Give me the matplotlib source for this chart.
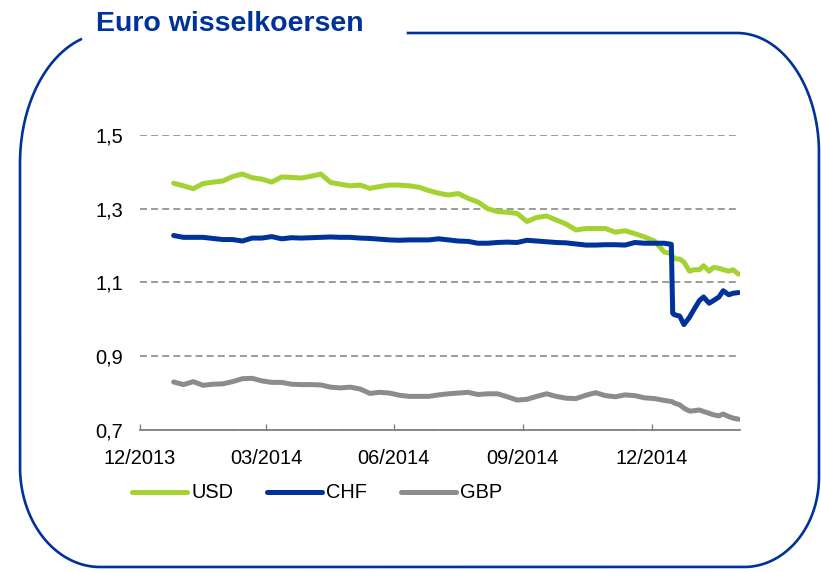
import numpy as np
import pandas as pd
import matplotlib
matplotlib.use('Agg')
import matplotlib.pyplot as plt
import matplotlib.dates as mdates
from matplotlib.ticker import FuncFormatter
from matplotlib.lines import Line2D

plt.rcParams['font.family'] = ['Liberation Sans', 'DejaVu Sans']
plt.rcParams['lines.scale_dashes'] = False

# weekly samples (Fridays) up to the SNB floor removal, then denser
dates = list(pd.date_range('2014-01-24', '2015-01-09', freq='7D')) + list(pd.to_datetime([
    '2015-01-14', '2015-01-15', '2015-01-16', '2015-01-20', '2015-01-23', '2015-01-27',
    '2015-01-30', '2015-02-03', '2015-02-06', '2015-02-10', '2015-02-13', '2015-02-17',
    '2015-02-20', '2015-02-24', '2015-02-27', '2015-03-03']))

usd = [1.369, 1.362, 1.354, 1.368, 1.372, 1.375, 1.387, 1.394, 1.384, 1.380, 1.372, 1.386, 1.385,
       1.383, 1.388, 1.394, 1.371, 1.366, 1.362, 1.364, 1.355, 1.360, 1.364, 1.364, 1.362, 1.358,
       1.349, 1.342, 1.337, 1.341, 1.328, 1.318, 1.300, 1.292, 1.290, 1.287, 1.265, 1.276, 1.280,
       1.269, 1.258, 1.242, 1.246, 1.246, 1.246, 1.236, 1.240, 1.232, 1.223, 1.212, 1.182,
       1.178, 1.170, 1.164, 1.163, 1.155, 1.130, 1.134, 1.134, 1.145, 1.130, 1.140, 1.138,
       1.134, 1.130, 1.134, 1.122]
chf = [1.227, 1.222, 1.222, 1.222, 1.219, 1.216, 1.216, 1.212, 1.220, 1.220, 1.224, 1.218, 1.221,
       1.220, 1.221, 1.222, 1.223, 1.222, 1.222, 1.220, 1.219, 1.217, 1.215, 1.214, 1.215, 1.215,
       1.215, 1.218, 1.215, 1.212, 1.211, 1.206, 1.206, 1.208, 1.209, 1.208, 1.214, 1.212, 1.210,
       1.208, 1.207, 1.204, 1.201, 1.201, 1.202, 1.202, 1.201, 1.208, 1.206, 1.206, 1.206,
       1.203, 1.016, 1.012, 1.008, 0.985, 1.005, 1.025, 1.050, 1.060, 1.043, 1.050, 1.060,
       1.077, 1.066, 1.070, 1.072]
gbp = [0.829, 0.822, 0.830, 0.820, 0.823, 0.824, 0.830, 0.838, 0.839, 0.832, 0.828, 0.828, 0.823,
       0.822, 0.822, 0.821, 0.815, 0.813, 0.815, 0.810, 0.798, 0.801, 0.799, 0.793, 0.790, 0.790,
       0.790, 0.794, 0.797, 0.799, 0.801, 0.795, 0.797, 0.797, 0.789, 0.780, 0.782, 0.790, 0.797,
       0.790, 0.785, 0.784, 0.793, 0.800, 0.792, 0.789, 0.794, 0.792, 0.786, 0.784, 0.779,
       0.776, 0.775, 0.772, 0.767, 0.758, 0.750, 0.751, 0.753, 0.749, 0.744, 0.740, 0.737,
       0.742, 0.735, 0.731, 0.728]

tick_dates = pd.to_datetime(['2013-12-31', '2014-03-31', '2014-06-30', '2014-09-30', '2014-12-31'])
y_ticks = [0.7, 0.9, 1.1, 1.3, 1.5]

blue = '#003399'
green = '#A5D233'
grey = '#8C8C8C'

W, H = 821, 572
fig = plt.figure(figsize=(W / 100, H / 100), dpi=100)
ax = fig.add_axes([140 / W, 1 - 429.5 / H, 600 / W, 294.5 / H])

lw = 3.6
ax.plot(dates, usd, color=green, lw=lw, solid_capstyle='round', solid_joinstyle='round', label='USD')
ax.plot(dates, chf, color=blue, lw=lw, solid_capstyle='round', solid_joinstyle='round', label='CHF')
ax.plot(dates, gbp, color=grey, lw=lw, solid_capstyle='round', solid_joinstyle='round', label='GBP')

ax.set_ylim(0.7, 1.5)
ax.set_xlim(pd.Timestamp('2013-12-31'), pd.Timestamp('2015-03-04'))
ax.set_yticks(y_ticks)
ax.yaxis.set_major_formatter(FuncFormatter(lambda v, p: f'{v:.1f}'.replace('.', ',')))
ax.set_xticks(tick_dates)
ax.xaxis.set_major_formatter(mdates.DateFormatter('%m/%Y'))

ax.yaxis.grid(True, color='#808080', lw=1.1, linestyle=(0, (5, 3)))
ax.set_axisbelow(True)
for s in ['top', 'right', 'left']:
    ax.spines[s].set_visible(False)
ax.spines['bottom'].set_color('#808080')
ax.spines['bottom'].set_linewidth(1.3)
ax.tick_params(axis='y', length=0, pad=12, labelsize=14.4)
ax.tick_params(axis='x', direction='in', length=4.5, width=1, color='#808080', pad=14, labelsize=14.4)

fig.legend(loc='center', bbox_to_anchor=(317 / W, 1 - 493 / H), ncol=3, frameon=False,
           fontsize=14.4, handlelength=2.75, handletextpad=0.2, columnspacing=1.7, borderpad=0)

fig.text(96 / W, 1 - 31 / H, 'Euro wisselkoersen', color=blue, fontsize=20.5, fontweight='bold',
         ha='left', va='baseline')

# rounded frame with a gap for the title
def arc(cx, cy, rx, ry, a0, a1):
    t = np.radians(np.linspace(a0, a1, 40))
    return cx + rx * np.cos(t), cy - ry * np.sin(t)

L, R, T, B = 20, 819, 33, 567
parts = [
    arc(L + 88, T + 130, 88, 130, 108, 180),
    arc(L + 80, B - 100, 80, 100, 180, 270),
    arc(R - 75, B - 90, 75, 90, 270, 360),
    arc(R - 82, T + 120, 82, 120, 0, 90),
]
fx = np.concatenate([p[0] for p in parts] + [np.array([408])])
fy = np.concatenate([p[1] for p in parts] + [np.array([T])])
fig.add_artist(Line2D(fx / W, 1 - fy / H, transform=fig.transFigure, color=blue, lw=1.9))

fig.savefig('out.png', dpi=100)
